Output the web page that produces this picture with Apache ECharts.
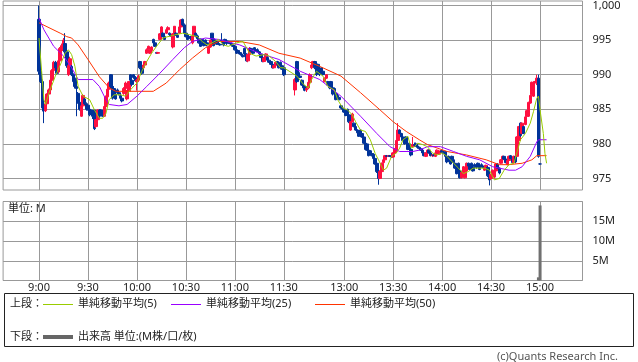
<!DOCTYPE html>
<html><head><meta charset="utf-8">
<script src="https://cdn.jsdelivr.net/npm/echarts@6/dist/echarts.min.js"></script>
<style>html,body{margin:0;padding:0;background:#fff}#c{width:638px;height:362px}</style>
</head><body><div id="c"></div><script>
// ---- data ----
const timeLabels = ['9:00','9:30','10:00','10:30','11:00','11:30','13:00','13:30','14:00','14:30','15:00'];
const priceRange = [975, 1000];
const volumeRange = [0, 20];
// one-minute bars [open, high, low, close], 9:00 - 11:30
const amBars = [
[998.0,1000.0,990.0,990.5],[990.5,991.0,988.8,989.0],[989.0,989.3,984.7,985.2],[985.2,985.5,983.0,984.8],[984.8,986.0,984.6,985.8],
[985.8,987.3,985.5,987.2],[987.2,988.0,987.0,987.8],[987.8,989.5,987.6,989.2],[989.2,990.8,989.0,990.6],[990.6,992.0,990.4,991.8],
[991.8,992.0,990.8,991.0],[991.0,991.2,990.0,990.2],[990.4,992.2,990.2,992.0],[992.0,994.0,991.8,993.8],[993.5,994.5,993.2,994.2],
[994.2,995.3,993.8,995.0],[994.5,996.0,993.0,993.3],[993.3,993.5,991.0,991.3],[990.0,991.5,989.8,991.3],[991.3,992.6,991.0,992.3],
[991.2,991.4,989.8,990.0],[990.0,990.2,988.8,989.0],[989.5,989.8,988.0,988.3],[988.3,988.5,984.0,988.0],[987.3,987.5,985.8,986.0],
[986.0,986.2,984.8,985.0],[984.0,985.6,983.9,985.5],[985.5,987.2,985.3,987.0],[986.5,986.6,985.6,985.8],[985.8,986.0,984.8,985.0],
[985.6,985.8,984.8,985.0],[985.0,985.2,984.0,984.2],[984.9,985.0,984.2,984.4],[984.4,984.6,983.6,984.0],[984.9,985.0,982.0,982.2],
[982.5,983.6,982.3,983.5],[983.5,985.0,983.4,984.9],[984.9,985.0,983.8,984.0],[984.9,985.0,984.6,984.7],[984.7,984.9,983.9,984.0],
[984.0,985.6,983.9,985.4],[985.4,987.0,985.2,986.8],[986.8,988.0,986.5,987.9],[987.9,989.0,987.6,988.8],[990.0,990.1,988.0,988.3],
[988.3,988.5,986.4,986.6],[988.0,988.3,987.0,987.2],[987.2,987.4,986.4,986.5],[987.8,988.0,987.2,987.4],[987.4,987.6,987.0,987.2],
[987.0,987.2,986.5,986.6],[986.6,986.8,986.0,986.2],[987.3,988.2,987.1,988.0],[988.0,989.0,987.8,988.8],[986.5,987.8,986.3,987.6],
[987.6,989.0,987.4,989.0],[990.0,990.1,989.0,989.2],[989.2,989.4,988.3,988.6],[990.0,990.1,989.4,989.6],[989.6,989.8,989.0,989.1],
[989.0,989.4,987.7,989.2],[989.2,990.0,989.0,989.8],[991.9,992.0,990.8,991.0],[991.0,991.2,990.0,990.2],[991.0,991.5,990.8,991.4],
[991.4,992.0,991.2,991.9],[993.1,993.8,993.0,993.6],[993.6,994.2,993.4,994.1],[993.1,993.6,993.0,993.5],[993.5,994.1,993.3,994.0],
[995.1,995.2,994.4,994.6],[994.6,994.8,994.0,994.1],[993.2,993.3,993.0,993.1],[993.1,993.3,993.0,993.2],[995.1,996.0,995.0,995.9],
[995.9,997.0,995.7,996.9],[996.0,996.1,995.4,995.5],[995.5,995.7,995.0,995.1],[996.0,996.6,995.9,996.5],[996.5,997.0,996.3,996.8],
[996.0,996.1,995.7,995.8],[995.8,995.9,995.5,995.6],[994.0,996.0,993.8,995.9],[995.9,997.0,995.8,997.0],[996.0,996.1,995.6,995.7],
[995.7,995.8,995.3,995.4],[996.0,997.0,995.9,996.9],[996.9,998.0,996.8,997.9],[998.0,998.1,997.0,997.2],[997.2,997.4,995.9,996.0],
[996.0,996.1,995.4,995.5],[995.5,995.7,995.0,995.1],[995.5,995.8,995.2,995.4],[995.4,995.6,995.0,995.2],[994.6,996.0,994.4,995.6],
[995.6,997.0,995.5,997.0],[996.0,996.1,995.4,995.6],[995.6,995.8,995.0,995.2],[995.2,995.3,994.5,994.6],[994.6,994.8,994.0,994.1],
[995.1,995.2,994.6,994.8],[994.8,995.0,994.1,994.2],[995.0,995.1,994.5,994.6],[994.6,994.8,994.1,994.3],[993.1,994.2,993.0,994.0],
[994.0,995.1,993.9,995.0],[996.0,996.0,995.0,995.2],[995.2,995.4,994.1,994.2],[995.0,995.1,994.6,994.8],[994.8,994.9,994.3,994.4],
[994.5,994.6,994.3,994.4],[994.4,994.5,994.2,994.3],[995.0,996.0,994.6,994.8],[994.8,995.0,994.1,994.3],[995.1,995.2,994.7,994.9],
[994.9,995.0,994.3,994.5],[994.8,994.9,994.5,994.6],[994.6,994.8,994.4,994.5],[994.5,994.6,994.2,994.3],[994.3,994.5,994.0,994.1],
[994.1,994.2,993.5,993.6],[993.6,993.7,993.0,993.1],[993.5,993.6,993.1,993.2],[993.2,993.3,992.9,993.0],[993.0,993.1,992.7,992.8],
[992.8,992.9,992.5,992.6],[993.8,993.9,992.8,993.0],[993.0,993.1,991.9,992.0],[992.0,993.0,991.8,992.9],[992.9,994.0,992.8,993.8],
[993.8,993.9,993.3,993.4],[993.4,993.5,993.0,993.1],[993.9,994.0,993.5,993.6],[993.6,993.7,993.3,993.4],[993.6,993.8,993.2,993.3],
[993.3,993.4,992.9,993.0],[993.0,993.1,992.4,992.5],[992.5,992.6,991.8,991.9],[991.9,992.5,991.8,992.4],[992.4,993.1,992.3,993.0],
[992.5,992.6,992.0,992.1],[992.1,992.2,991.7,991.8],[991.9,992.0,991.4,991.5],[991.5,991.6,990.9,991.0],[991.0,991.4,990.9,991.3],
[991.3,991.9,991.2,991.8],[991.9,992.0,991.4,991.5],[991.5,991.6,990.9,991.0],[991.8,991.9,991.2,991.3],[991.3,991.4,990.7,990.8],
[991.0,991.1,989.8,990.0]
];
// one-minute bars [open, high, low, close], 12:30 - 15:00
const pmBars = [
[987.8,989.5,987.0,989.3],[991.9,992.0,988.8,989.0],[990.3,990.5,989.7,989.8],[989.8,990.0,989.5,989.6],[989.2,989.3,988.4,988.5],
[988.5,988.6,987.7,988.1],[988.3,988.5,987.6,987.8],[987.8,988.2,987.5,988.0],[988.1,989.0,987.9,988.9],[988.9,990.2,988.8,990.0],
[991.0,991.5,990.8,991.4],[991.4,992.0,991.2,991.9],[991.9,992.0,990.8,991.0],[991.0,991.1,989.8,990.0],[991.5,991.6,990.6,990.8],
[990.8,990.9,989.8,990.0],[991.0,991.1,990.4,990.5],[990.5,990.6,989.9,990.0],[989.0,989.6,988.9,989.5],[989.5,990.1,989.4,990.0],
[989.0,989.1,988.4,988.5],[988.5,988.6,987.9,988.1],[989.0,989.1,988.0,988.1],[988.1,988.2,987.0,987.2],[988.0,988.1,987.2,987.3],
[987.3,987.4,986.3,986.4],[987.0,987.1,986.6,986.7],[986.7,986.8,986.3,986.4],[985.5,985.6,985.1,985.2],[985.2,985.3,984.9,985.0],
[985.0,985.1,984.5,984.6],[984.6,984.7,984.0,984.1],[985.0,985.1,984.0,984.2],[984.2,984.3,983.0,983.2],[982.0,983.3,981.9,983.2],
[983.2,984.5,983.1,984.3],[983.0,983.1,982.4,982.5],[982.5,982.6,981.9,982.0],[982.0,982.1,981.5,981.6],[981.6,981.7,981.0,981.1],
[982.0,982.1,981.4,981.5],[981.5,981.6,980.9,981.0],[981.0,981.1,980.0,980.1],[980.1,980.2,979.1,979.2],[980.0,980.1,979.0,979.1],
[979.1,979.2,978.2,978.3],[979.0,979.1,978.5,978.6],[978.6,978.7,978.2,978.3],[978.5,978.6,977.8,977.9],[977.9,978.0,977.0,977.1],
[977.2,977.3,975.8,976.0],[976.0,976.2,974.1,975.0],[975.0,976.2,974.9,976.0],[976.0,977.3,975.8,977.2],[977.3,977.8,977.2,977.7],
[977.7,978.4,977.6,978.3],[978.3,978.4,978.1,978.2],[978.2,978.4,978.1,978.3],[978.3,978.4,978.1,978.2],[978.2,978.3,978.0,978.1],
[978.1,978.8,978.0,978.7],[978.7,979.4,978.6,979.3],[979.0,980.6,978.9,980.5],[980.5,983.0,980.3,982.0],[982.0,982.1,981.4,981.5],
[981.5,981.6,980.9,981.0],[981.0,981.1,980.4,980.5],[980.5,980.6,979.9,980.0],[981.0,981.1,980.0,980.1],[980.1,980.2,979.1,979.2],
[980.0,980.1,979.1,979.2],[979.2,979.3,978.2,978.4],[979.6,981.0,979.5,979.9],[979.9,980.2,979.6,979.8],[980.0,980.2,979.6,979.7],
[979.7,979.8,979.3,979.5],[979.5,979.6,979.2,979.3],[979.3,979.4,979.0,979.1],[979.1,979.2,978.6,978.7],[978.7,978.8,978.2,978.3],
[978.2,978.8,978.1,978.7],[978.7,979.2,978.6,979.1],[979.1,979.2,978.6,978.7],[978.7,978.8,978.2,978.3],[978.3,978.5,978.1,978.4],
[978.4,978.5,978.2,978.3],[978.2,978.8,978.1,978.7],[978.7,979.2,978.6,979.1],[978.5,978.9,978.4,978.8],[978.8,979.1,978.7,979.0],
[979.0,979.1,978.7,978.8],[978.8,978.9,978.5,978.6],[978.9,979.0,978.1,978.2],[978.2,978.3,977.2,977.4],[978.2,978.3,977.6,977.7],
[977.7,977.8,977.0,977.1],[978.2,978.3,977.6,977.7],[977.7,977.8,977.2,977.3],[977.2,977.3,976.4,976.5],[976.5,976.6,975.6,975.7],
[977.2,977.3,976.0,976.1],[976.1,976.2,975.0,975.1],[975.1,976.0,975.0,975.9],[975.9,976.8,975.8,976.7],[975.1,976.2,975.0,976.1],
[976.1,977.3,976.0,977.2],[977.2,977.3,976.7,976.8],[976.8,976.9,976.2,976.3],[977.2,977.3,976.6,976.7],[976.7,976.8,976.0,976.1],
[977.0,977.2,976.7,976.8],[976.8,976.9,976.4,976.6],[977.2,977.3,976.7,976.8],[976.8,976.9,976.2,976.3],[977.0,977.2,976.7,976.8],
[976.8,976.9,976.5,976.6],[976.2,976.6,976.1,976.5],[976.5,977.0,976.4,976.9],[976.6,976.8,975.2,975.4],[975.4,975.6,974.0,974.8],
[975.0,975.7,974.8,975.6],[975.6,976.3,975.5,976.2],[975.2,976.2,975.0,976.1],[976.1,977.2,976.0,977.1],[977.1,977.2,976.4,976.5],
[976.5,976.6,975.6,975.8],[977.2,977.8,977.1,977.7],[977.7,978.3,977.6,978.2],[978.2,978.3,977.7,977.8],[977.8,977.9,977.2,977.3],
[977.0,977.7,976.9,977.6],[977.6,978.3,977.5,978.2],[978.3,978.4,977.8,977.9],[977.9,978.0,977.2,977.3],[977.3,978.3,977.2,978.2],
[978.2,978.4,977.2,977.4],[978.2,981.1,978.1,981.0],[980.5,982.6,980.4,982.5],[983.0,983.1,981.0,981.2],[981.5,983.1,981.4,983.0],
[982.5,982.6,981.4,981.5],[982.8,984.0,982.7,983.9],[984.0,984.9,983.9,984.8],[984.0,986.1,983.9,986.0],[985.9,987.1,985.8,987.0],
[987.1,989.0,987.0,988.9],[986.9,989.0,986.8,988.8],[988.8,989.1,988.0,989.0],[989.0,990.0,988.5,989.5],[989.5,990.0,978.0,978.2],
[977.1,977.2,977.0,977.1]
];
// volume in millions (all other minutes are too small to see)
const volumes = [['14:59', 0.8], ['15:00', 19.0]];
// moving averages [time, price]
const ma5 = [['9:00',995.3],['9:03',986.4],['9:04',985.7],['9:06',987.3],['9:10',989.8],['9:13',991.4],['9:16',993.1],['9:18',993.6],['9:20',992.9],['9:22',991.2],['9:24',988.3],['9:27',986.9],['9:31',986.4],['9:34',984.9],['9:37',983.7],['9:39',983.7],['9:41',984.4],['9:43',986.4],['9:46',987.1],['9:50',987.1],['9:53',986.9],['9:56',987.8],['10:00',988.8],['10:03',990.5],['10:06',991.9],['10:09',993.1],['10:12',994.1],['10:16',995.3],['10:19',995.5],['10:24',995.8],['10:28',996.0],['10:32',995.8],['10:37',995.5],['10:40',994.8],['10:43',994.3],['10:46',994.6],['10:50',995.1],['10:53',994.3],['10:56',994.1],['11:01',994.6],['11:05',994.8],['11:09',993.1],['11:13',992.7],['11:18',992.9],['11:21',992.7],['11:25',991.9],['11:28',991.0],['11:30',991.0],
['12:31',989.8],['12:35',988.6],['12:38',988.1],['12:40',989.3],['12:43',990.5],['12:47',989.8],['12:50',988.3],['12:54',987.8],['12:56',986.4],['12:59',985.2],['13:02',984.9],['13:05',984.2],['13:07',983.2],['13:10',982.0],['13:13',981.8],['13:16',980.6],['13:19',978.6],['13:21',977.7],['13:24',976.2],['13:26',976.5],['13:29',978.2],['13:32',978.7],['13:34',979.4],['13:36',980.6],['13:39',981.1],['13:41',979.4],['13:43',979.6],['13:45',980.1],['13:48',979.9],['13:51',979.6],['13:54',978.7],['13:57',978.4],['14:00',978.7],['14:03',978.2],['14:07',977.2],['14:10',976.5],['14:13',975.7],['14:16',976.0],['14:19',976.5],['14:23',976.5],['14:26',976.5],['14:29',976.2],['14:32',974.8],['14:35',975.0],['14:38',976.2],['14:41',977.0],['14:44',977.2],['14:46',978.9],['14:48',980.6],['14:51',981.5],['14:54',983.0],['14:56',984.7],['14:58',986.6],['14:59',986.9],['15:00',984.9],['15:02',981.5],['15:03',978.6],['15:04',977.2]];
const ma25 = [['9:00',998.2],['9:03',996.5],['9:09',994.1],['9:15',992.7],['9:20',991.0],['9:24',989.3],['9:33',989.3],['9:37',988.3],['9:41',986.4],['9:43',985.7],['9:49',985.5],['9:54',985.7],['10:00',986.9],['10:06',988.3],['10:14',990.2],['10:22',992.2],['10:29',993.9],['10:34',994.8],['10:42',995.3],['10:50',995.1],['11:03',994.3],['11:15',993.1],['11:27',992.2],
['12:33',990.5],['12:45',989.3],['12:58',986.9],['13:10',984.0],['13:20',981.5],['13:28',979.6],['13:34',978.9],['13:42',978.9],['13:46',979.1],['13:51',979.6],['13:59',979.6],['14:07',978.9],['14:15',978.2],['14:23',977.7],['14:31',976.7],['14:41',976.2],['14:45',976.2],['14:49',976.7],['14:54',978.2],['14:58',980.3],['14:59',980.6],['15:04',980.6]];
const ma50 = [['9:00',997.5],['9:13',996.0],['9:17',995.5],['9:20',995.3],['9:24',994.3],['9:30',992.2],['9:37',989.7],['9:43',988.1],['9:47',987.6],['10:10',987.6],['10:18',988.8],['10:26',990.7],['10:34',992.4],['10:42',993.9],['10:50',994.8],['11:03',994.8],['11:15',994.3],['11:27',993.1],
['12:33',992.4],['12:45',991.2],['12:58',989.8],['13:10',987.4],['13:22',984.9],['13:30',983.2],['13:38',981.8],['13:46',980.6],['13:51',979.9],['14:03',978.9],['14:15',978.4],['14:27',977.7],['14:35',977.0],['14:41',977.0],['14:49',977.2],['14:55',977.7],['14:58',978.3],['15:04',978.3]];

// ---- build the time axis (one slot per minute, empty slots around sessions) ----
function fmt(m){const h=Math.floor(m/60),mm=m%60;return h+':'+(mm<10?'0':'')+mm;}
const cats=[], amTimes=[], pmTimes=[];
for(let m=540-22;m<540;m++) cats.push(fmt(m));
for(let m=540;m<=690;m++){amTimes.push(fmt(m));cats.push(fmt(m));}
for(let m=691;m<=696;m++) cats.push(fmt(m));
for(let m=750;m<=900;m++){pmTimes.push(fmt(m));cats.push(fmt(m));}
for(let m=901;m<=926;m++) cats.push(fmt(m));
const idx={}; cats.forEach((c,i)=>idx[c]=i);
const candle=cats.map(()=>'-');
function put(times,bars){times.forEach((t,i)=>{const b=bars[i];if(b)candle[idx[t]]=[b[0],b[3],b[2],b[1]];});}
put(amTimes,amBars); put(pmTimes,pmBars);
const labelSet=new Set(timeLabels);
const showAt=(i,v)=>labelSet.has(v);

const FONT='"Noto Sans","Noto Sans CJK JP",sans-serif';
const GRID='#999999';
const L=3.1, W=579.4;
const chart=echarts.init(document.getElementById('c'),null,{renderer:'canvas'});
const catAxis=(gi,extra)=>Object.assign({type:'category',gridIndex:gi,data:cats,boundaryGap:false,
  axisLine:{show:false},axisTick:{show:false},axisLabel:{show:false},splitLine:{show:false}},extra||{});
chart.setOption({
  animation:false,
  grid:[
    {left:L,top:1,width:W,height:189,show:true,borderColor:GRID,borderWidth:1},
    {left:L,top:5.5,width:W,height:173,show:false},
    {left:L,top:201.5,width:W,height:79,show:true,borderColor:GRID,borderWidth:1}
  ],
  xAxis:[
    catAxis(0,{splitLine:{show:true,interval:showAt,lineStyle:{color:GRID,width:1}}}),
    catAxis(1,{show:false}),
    catAxis(2,{splitLine:{show:true,interval:showAt,lineStyle:{color:GRID,width:1}},
      axisLabel:{show:true,interval:showAt,margin:2,fontSize:11,color:'#222',fontFamily:FONT}})
  ],
  yAxis:[
    {type:'value',gridIndex:0,show:false,min:0,max:1},
    {type:'value',gridIndex:1,position:'right',min:priceRange[0],max:priceRange[1],interval:5,
      axisLine:{show:false},axisTick:{show:false},
      splitLine:{show:true,lineStyle:{color:GRID,width:1}},
      axisLabel:{margin:10,fontSize:11,color:'#222',fontFamily:FONT,
        formatter:v=>v>=1000?v.toLocaleString('en-US'):String(v)}},
    {type:'value',gridIndex:2,position:'right',min:volumeRange[0],max:volumeRange[1],interval:5,
      axisLine:{show:false},axisTick:{show:false},
      splitLine:{show:true,lineStyle:{color:GRID,width:1}},
      axisLabel:{margin:10,fontSize:11,color:'#222',fontFamily:FONT,showMinLabel:false,showMaxLabel:false,
        formatter:v=>v+'M'}}
  ],
  series:[
    {type:'candlestick',xAxisIndex:1,yAxisIndex:1,data:candle,barWidth:3,clip:false,
      itemStyle:{color:'#ff1040',color0:'#003399',borderColor:'#ff1040',borderColor0:'#003399',borderWidth:1}},
    {type:'line',xAxisIndex:1,yAxisIndex:1,data:ma50,showSymbol:false,clip:false,connectNulls:true,
      lineStyle:{color:'#ff3300',width:1},z:3},
    {type:'line',xAxisIndex:1,yAxisIndex:1,data:ma25,showSymbol:false,clip:false,connectNulls:true,
      lineStyle:{color:'#9900ff',width:1},z:3},
    {type:'line',xAxisIndex:1,yAxisIndex:1,data:ma5,showSymbol:false,clip:false,connectNulls:true,
      lineStyle:{color:'#99cc00',width:1},z:4},
    {type:'bar',xAxisIndex:2,yAxisIndex:2,data:volumes,barWidth:3,itemStyle:{color:'#707070'}}
  ],
  graphic:[
    {type:'text',left:8,top:203,style:{text:'単位: M',font:'11px '+FONT,fill:'#222'}},
    {type:'rect',shape:{x:4.5,y:293.5,width:629,height:53},style:{fill:'none',stroke:'#222',lineWidth:1}},
    {type:'text',x:10,y:304,style:{text:'上段：',font:'11px '+FONT,fill:'#222',textVerticalAlign:'middle'}},
    {type:'line',shape:{x1:43,y1:304.5,x2:73,y2:304.5},style:{stroke:'#99cc00',lineWidth:1}},
    {type:'text',x:78,y:304,style:{text:'単純移動平均(5)',font:'11px '+FONT,fill:'#222',textVerticalAlign:'middle'}},
    {type:'line',shape:{x1:171,y1:304.5,x2:201,y2:304.5},style:{stroke:'#9900ff',lineWidth:1}},
    {type:'text',x:206,y:304,style:{text:'単純移動平均(25)',font:'11px '+FONT,fill:'#222',textVerticalAlign:'middle'}},
    {type:'line',shape:{x1:315,y1:304.5,x2:345,y2:304.5},style:{stroke:'#ff3300',lineWidth:1}},
    {type:'text',x:350,y:304,style:{text:'単純移動平均(50)',font:'11px '+FONT,fill:'#222',textVerticalAlign:'middle'}},
    {type:'text',x:10,y:337,style:{text:'下段：',font:'11px '+FONT,fill:'#222',textVerticalAlign:'middle'}},
    {type:'line',shape:{x1:43,y1:337,x2:73,y2:337},style:{stroke:'#666666',lineWidth:4}},
    {type:'text',x:78,y:337,style:{text:'出来高 単位:(M株/口/枚)',font:'11px '+FONT,fill:'#222',textVerticalAlign:'middle'}},
    {type:'text',x:618,y:357,style:{text:'(c)Quants Research Inc.',font:'11px '+FONT,fill:'#555',textAlign:'right',textVerticalAlign:'middle'}}
  ]
});
</script></body></html>
